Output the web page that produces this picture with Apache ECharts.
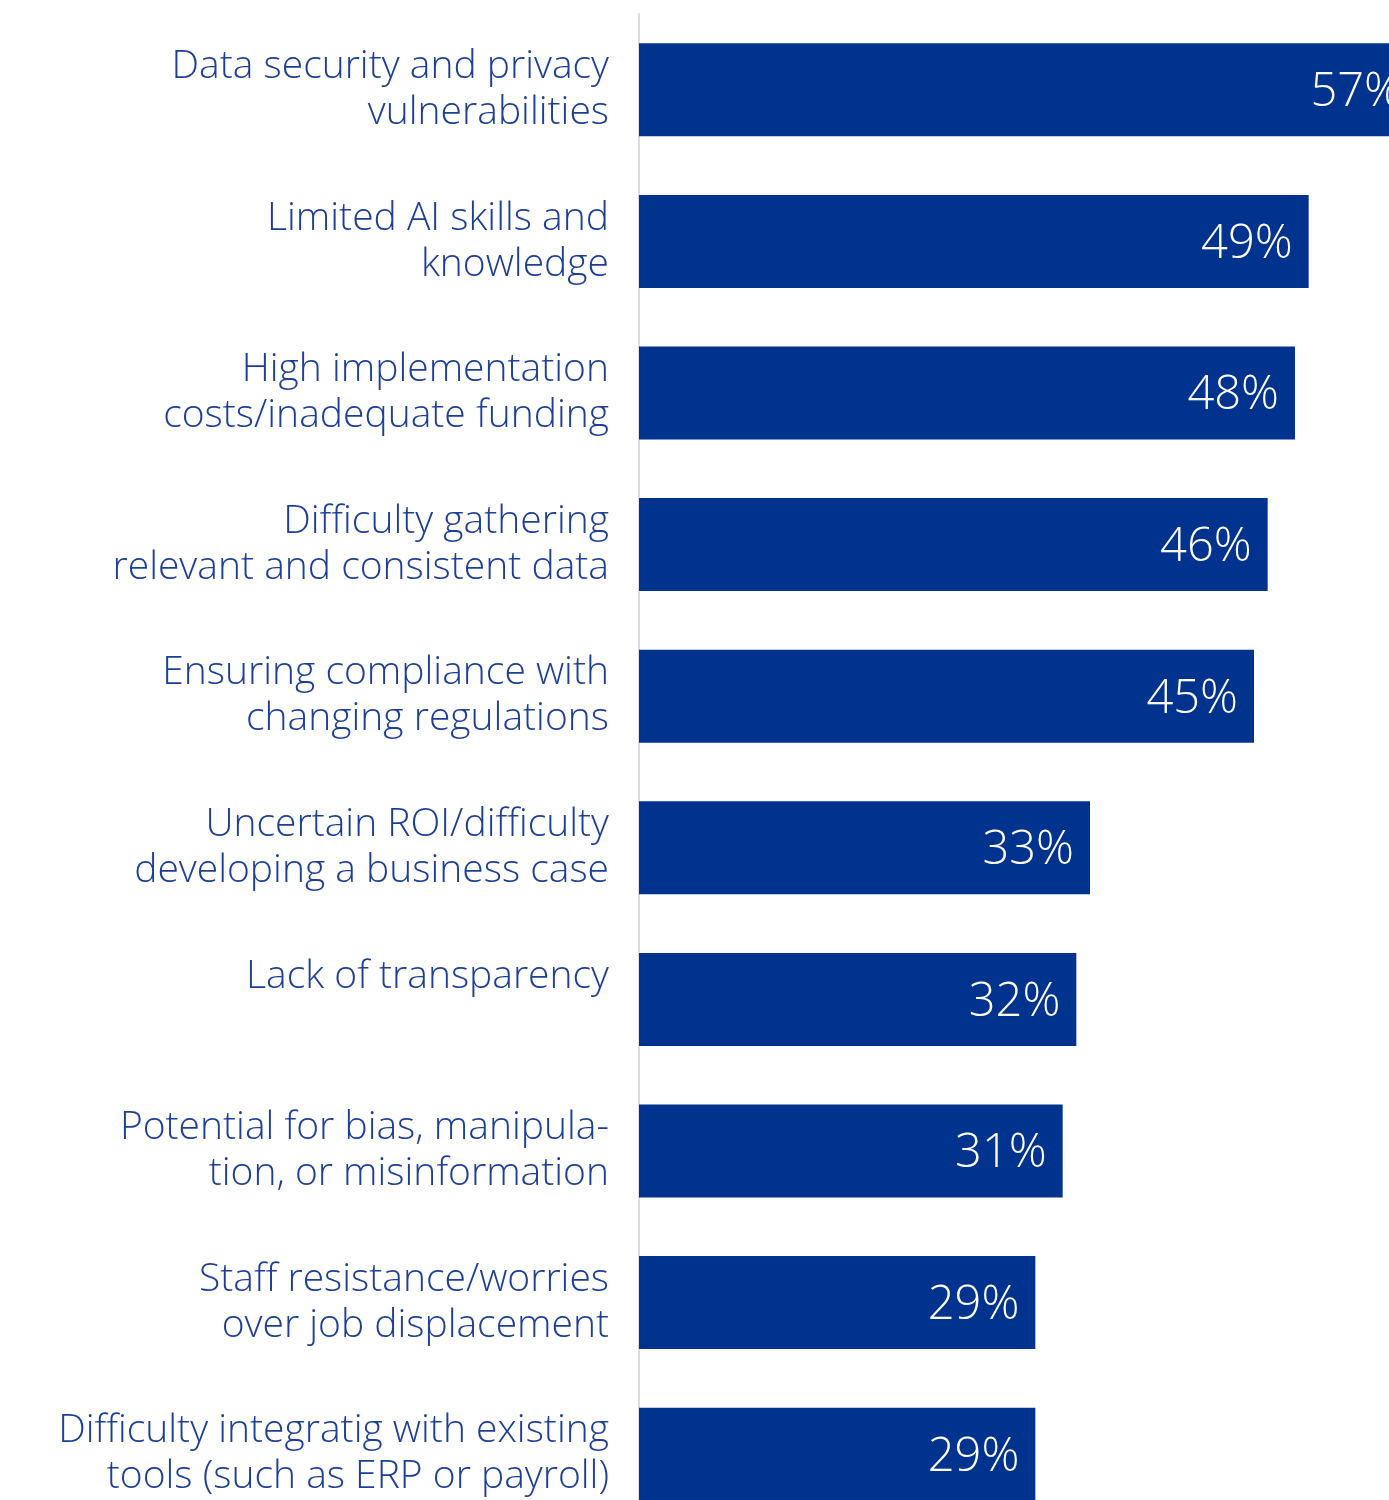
<!DOCTYPE html>
<html>
<head>
<meta charset="utf-8">
<style>
  html, body { margin: 0; padding: 0; background: #ffffff; }
  #chart { width: 1389px; height: 1500px; }
</style>
<script src="https://cdn.jsdelivr.net/npm/echarts@6/dist/echarts.min.js"></script>
</head>
<body>
<div id="chart"></div>
<script>
// Barriers to AI adoption, share of respondents (%)
const categories = [
  'Data security and privacy\nvulnerabilities',
  'Limited AI skills and\nknowledge',
  'High implementation\ncosts/inadequate funding',
  'Difficulty gathering\nrelevant and consistent data',
  'Ensuring compliance with\nchanging regulations',
  'Uncertain ROI/difficulty\ndeveloping a business case',
  'Lack of transparency\n',
  'Potential for bias, manipula-\ntion, or misinformation',
  'Staff resistance/worries\nover job displacement',
  'Difficulty integratig with existing\ntools (such as ERP or payroll)'
];
const values = [57, 49, 48, 46, 45, 33, 32, 31, 29, 29];

const BLUE = '#00338D';
const TEXT_BLUE = '#1E3F98';
const FONT = '"Open Sans", "Noto Sans", sans-serif';

const chart = echarts.init(document.getElementById('chart'), null, { renderer: 'canvas' });
chart.setOption({
  animation: false,
  backgroundColor: '#ffffff',
  grid: { left: 639, top: 14, width: 779, height: 1516, outerBoundsMode: 'none', containLabel: false },
  xAxis: {
    type: 'value', min: 0, max: 57,
    show: false
  },
  yAxis: {
    type: 'category',
    data: categories,
    inverse: true,
    axisTick: { show: false },
    axisLine: { show: true, lineStyle: { color: '#dcdcdc', width: 2 } },
    axisLabel: {
      margin: 30,
      fontFamily: FONT,
      fontWeight: 300,
      fontSize: 39,
      lineHeight: 46,
      color: TEXT_BLUE,
      align: 'right',
      padding: [2, 0, 0, 0]
    }
  },
  series: [{
    type: 'bar',
    data: values,
    barWidth: 93,
    itemStyle: { color: BLUE },
    label: {
      show: true,
      position: 'insideRight',
      distance: 16,
      offset: [0, 3],
      formatter: '{c}%',
      color: '#ffffff',
      fontFamily: FONT,
      fontWeight: 300,
      fontSize: 47
    }
  }]
});
</script>
</body>
</html>
